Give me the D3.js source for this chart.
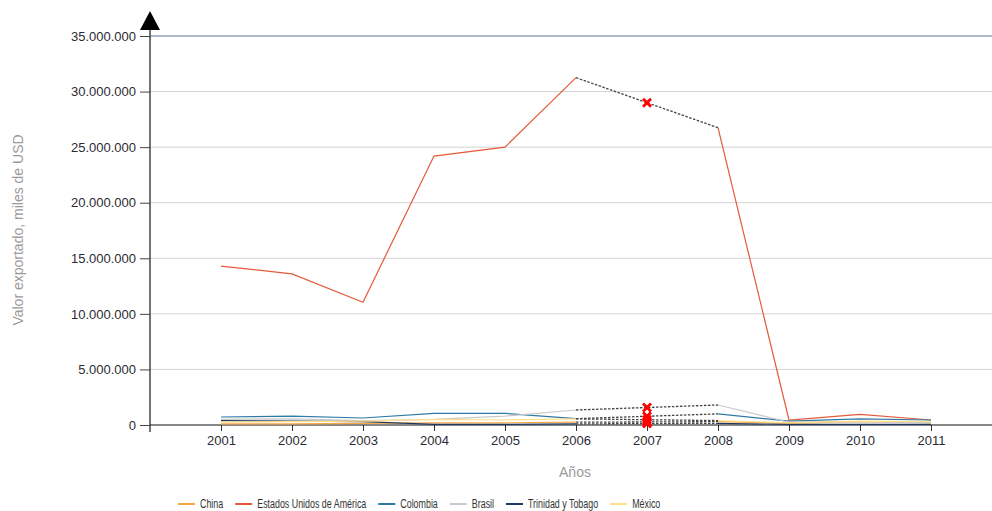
<!DOCTYPE html>
<html lang="es">
<head>
    <meta charset="UTF-8">
    <title>Valor exportado</title>
    <script src="https://d3js.org/d3.v7.min.js"></script>
    <style>
        body { margin: 0; background: #fff; }
        .tick text { font-family: "Liberation Sans", Arial, sans-serif; font-size: 13px; fill: #2b2b33; }
        .axis-title { font-family: "Liberation Sans", Arial, sans-serif; font-size: 14px; fill: #9a9a9a; }
        .legend text { font-family: "Liberation Sans", Arial, sans-serif; font-size: 12px; fill: #333; }
    </style>
</head>
<body>
<div id="fig"></div>
<script>
    // miles de USD, 2007 sin dato (null)
    let years = [2001, 2002, 2003, 2004, 2005, 2006, 2007, 2008, 2009, 2010, 2011]
    let china = [100000, 100000, 150000, 200000, 200000, 250000, null, 300000, 150000, 300000, 250000]
    let usa = [14300000, 13600000, 11050000, 24200000, 25000000, 31250000, null, 26750000, 450000, 950000, 450000]
    let colombia = [720000, 800000, 630000, 1050000, 1050000, 570000, null, 1000000, 350000, 550000, 450000]
    let brasil = [500000, 550000, 400000, 500000, 800000, 1350000, null, 1800000, 250000, 300000, 200000]
    let trinidad = [400000, 350000, 300000, 50000, 50000, 100000, null, 150000, 50000, 50000, 50000]
    let mexico = [250000, 300000, 350000, 500000, 450000, 550000, null, 400000, 200000, 350000, 300000]

    let seriesNames = ["China", "Estados Unidos de América", "Colombia", "Brasil", "Trinidad y Tobago", "México"]
    let seriesValues = [china, usa, colombia, brasil, trinidad, mexico]
    let colors = ["#f7a644", "#e55a3a", "#2f7aa5", "#c9c9c9", "#1f3a60", "#ffe08a"]
    let yTicks = [0, 5000000, 10000000, 15000000, 20000000, 25000000, 30000000, 35000000]

    let W = 992, H = 511
    let svg = d3.select("#fig").append("svg").attr("width", W).attr("height", H)

    let x = d3.scaleLinear().domain([2000, 2012]).range([150, 1002])
    let y = d3.scaleLinear().domain([0, 35000000]).range([425, 36])

    let loc = d3.formatLocale({decimal: ",", thousands: ".", grouping: [3], currency: ["$", ""]})
    let fmt = loc.format(",.0f")

    // gridlines
    svg.append("g").selectAll("line")
        .data(yTicks.filter(d => d > 0))
        .join("line")
        .attr("x1", 150).attr("x2", W)
        .attr("y1", d => y(d)).attr("y2", d => y(d))
        .attr("stroke", d => d === 35000000 ? "#5e7291" : "#d3d3d3")
        .attr("stroke-width", 1)

    // y axis
    let yAxis = svg.append("g")
        .attr("transform", "translate(150,0)")
        .call(d3.axisLeft(y).tickValues(yTicks).tickFormat(fmt).tickSize(10).tickPadding(4))
    yAxis.select(".domain").remove()
    yAxis.selectAll(".tick line").attr("stroke", "#444")
    svg.append("line")
        .attr("x1", 150).attr("x2", 150).attr("y1", 432).attr("y2", 28)
        .attr("stroke", "#444").attr("stroke-width", 1.5)
    svg.append("path")
        .attr("d", "M150,11 L160,30 L140,30 Z")
        .attr("fill", "#000")

    // x axis
    let xAxis = svg.append("g")
        .attr("transform", "translate(0,425)")
        .call(d3.axisBottom(x).tickValues(years).tickFormat(d3.format("d")).tickSize(6).tickPadding(5))
    xAxis.select(".domain").remove()
    xAxis.selectAll(".tick line").attr("stroke", "#333")
    svg.append("line")
        .attr("x1", 150).attr("x2", W).attr("y1", 425).attr("y2", 425)
        .attr("stroke", "#111").attr("stroke-width", 1.2)

    // titles
    svg.append("text").attr("class", "axis-title")
        .attr("x", 575).attr("y", 477).attr("text-anchor", "middle").text("Años")
    svg.append("text").attr("class", "axis-title")
        .attr("transform", "translate(23,230) rotate(-90)")
        .attr("text-anchor", "middle").text("Valor exportado, miles de USD")

    let line = d3.line()
        .defined(d => d[1] != null)
        .x(d => x(d[0])).y(d => y(d[1]))

    let gLines = svg.append("g")
    let gGaps = svg.append("g")
    let gMarks = svg.append("g")

    seriesValues.forEach(function (vals, s) {
        let pts = years.map((yr, i) => [yr, vals[i]])
        gLines.append("path")
            .datum(pts)
            .attr("d", line)
            .attr("fill", "none")
            .attr("stroke", colors[s])
            .attr("stroke-width", 1.2)

        // missing values: dashed bridge and red cross
        for (let i = 0; i < vals.length; i++) {
            if (vals[i] != null) continue
            let a = i - 1, b = i + 1
            while (a >= 0 && vals[a] == null) a--
            while (b < vals.length && vals[b] == null) b++
            if (a < 0 || b >= vals.length) continue
            gGaps.append("line")
                .attr("x1", x(years[a])).attr("y1", y(vals[a]))
                .attr("x2", x(years[b])).attr("y2", y(vals[b]))
                .attr("stroke", "#444").attr("stroke-width", 1.3)
                .attr("stroke-dasharray", "2.5,1.5")
            let t = (years[i] - years[a]) / (years[b] - years[a])
            let est = vals[a] + t * (vals[b] - vals[a])
            let cx = x(years[i]), cy = y(est)
            gMarks.append("path")
                .attr("d", `M${cx - 4},${cy - 4}L${cx + 4},${cy + 4}M${cx + 4},${cy - 4}L${cx - 4},${cy + 4}`)
                .attr("stroke", "#ff0000").attr("stroke-width", 2.8)
        }
    })

    // legend (narrow lettering, as in the original)
    let legend = svg.append("g").attr("class", "legend")
    let lx = 178
    seriesNames.forEach(function (name, s) {
        let g = legend.append("g").attr("transform", `translate(${lx},504)`)
        g.append("line").attr("x1", 0).attr("x2", 17).attr("y1", 0).attr("y2", 0)
            .attr("stroke", colors[s]).attr("stroke-width", 2)
        let t = g.append("text").attr("x", 22).attr("y", 4).text(name)
        let len = t.node().getComputedTextLength() * 0.74
        t.attr("textLength", len).attr("lengthAdjust", "spacingAndGlyphs")
        lx += 22 + len + 12
    })
</script>
</body>
</html>
